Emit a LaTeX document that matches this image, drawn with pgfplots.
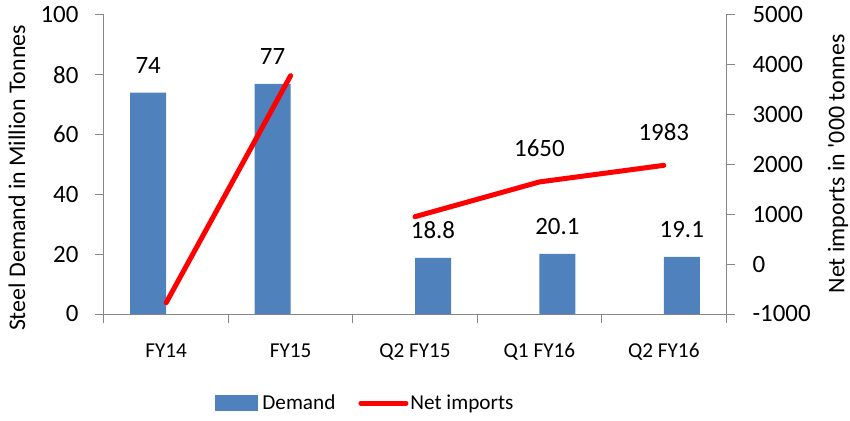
\documentclass[border=0pt]{standalone}
\usepackage{fontspec}
\setmainfont{Carlito}
\usepackage{pgfplots}
\pgfplotsset{compat=1.18}
\definecolor{barblue}{HTML}{4F81BD}
\definecolor{axgray}{HTML}{868686}
\definecolor{linered}{HTML}{FF0000}
\newcommand{\fA}{\fontsize{25}{30}\selectfont}
\newcommand{\fT}{\fontsize{24}{29}\selectfont}
\newcommand{\fX}{\fontsize{21.3}{26}\selectfont}
\begin{document}
\begin{tikzpicture}
\pgfplotsset{
  every axis/.append style={
    scale only axis, width=622bp, height=299bp,
    xmin=-0.5, xmax=4.5,
    /pgf/number format/assume math mode=true,
    /pgf/number format/1000 sep={},
    tick align=outside, major tick length=9bp,
    axis line style={axgray, line width=1bp},
    tick style={axgray, line width=1bp},
    clip=false,
  }
}
\begin{axis}[
  ymin=0, ymax=100, ytick={0,20,...,100},
  axis y line*=left, axis x line*=bottom,
  xtick={-0.5,0.5,...,4.5}, x tick label as interval,
  xticklabels={FY14,FY15,Q2 FY15,Q1 FY16,Q2 FY16},
  xticklabel style={font=\fX, yshift=-17bp},
  yticklabel style={font=\fA, xshift=-13bp},
  ylabel={Steel Demand in Million Tonnes},
  ylabel style={font=\fT, at={(axis description cs:-0.140,0.455)}, anchor=center},
  ybar, bar width=36bp,
  nodes near coords,
  every node near coord/.append style={font=\fA, anchor=base, yshift=19bp, text=black},
]
\addplot[fill=barblue, draw=none, bar shift=-18bp] coordinates {(0,74) (1,77)};
\addplot[fill=barblue, draw=none, bar shift=18bp] coordinates {(2,18.8) (3,20.1) (4,19.1)};
\end{axis}
\begin{axis}[
  ymin=-1000, ymax=5000, ytick={-1000,0,...,5000},
  axis y line*=right, axis x line=none,
  yticklabel style={font=\fA, xshift=14bp},
  ylabel={Net imports in \textquotesingle 000 tonnes},
  ylabel style={font=\fT, at={(axis description cs:1.180,0.502)}, anchor=center},
  legend style={draw=none, fill=none, at={(axis description cs:0.42,-0.298)}, anchor=center,
    legend columns=2, font=\fX,
    /tikz/every even column/.append style={column sep=21bp}},
]
\addlegendimage{legend image code/.code={\fill[barblue] (0bp,-7.5bp) rectangle (42bp,7.5bp);}}
\addlegendentry{\hspace{3bp}Demand}
\addplot[linered, line width=5bp, line cap=round, mark=none,
  legend image code/.code={\draw[linered, line width=5bp, line cap=round] (0bp,0bp) -- (45bp,0bp);}]
  coordinates {(0,-773) (1,3782)};
\addlegendentry{Net imports}
\addplot[linered, line width=5bp, line cap=round, mark=none, forget plot]
  coordinates {(2,953) (3,1650) (4,1983)};
\addplot[draw=none, mark=none, forget plot, nodes near coords,
  every node near coord/.append style={font=\fA, anchor=base, yshift=25bp, text=black}]
  coordinates {(3,1650) (4,1983)};
\end{axis}
\pgfresetboundingbox
\useasboundingbox (-104bp,-107bp) rectangle (746bp,314bp);
\end{tikzpicture}
\end{document}
